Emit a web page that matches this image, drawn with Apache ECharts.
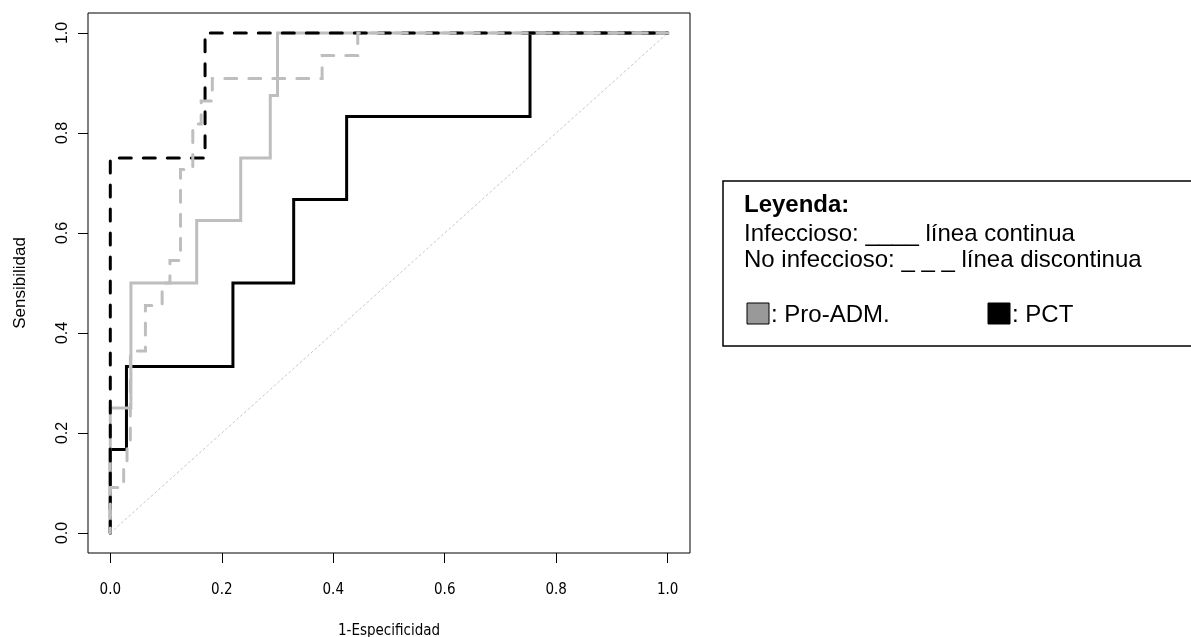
<!DOCTYPE html>
<html>
<head>
<meta charset="utf-8">
<script src="https://cdn.jsdelivr.net/npm/echarts@6/dist/echarts.min.js"></script>
<style>html,body{margin:0;padding:0;background:#fff;}#c{width:1191px;height:637px;}</style>
</head>
<body>
<div id="c"></div>
<script>
// ---- data ----
const xTicks = [0, 0.2, 0.4, 0.6, 0.8, 1.0];
const yTicks = [0, 0.2, 0.4, 0.6, 0.8, 1.0];

// Diagonal reference
const diagX = [0, 1];
const diagY = [0, 1];

// PCT, infeccioso (black solid)
const pctInfX = [0, 0, 0.029, 0.029, 0.22, 0.22, 0.329, 0.329, 0.424, 0.424, 0.753, 0.753, 1];
const pctInfY = [0, 0.167, 0.167, 0.333, 0.333, 0.5, 0.5, 0.667, 0.667, 0.833, 0.833, 1, 1];

// Pro-ADM, infeccioso (gray solid)
const admInfX = [0, 0, 0.037, 0.037, 0.155, 0.155, 0.234, 0.234, 0.287, 0.287, 0.300, 0.300, 1];
const admInfY = [0, 0.25, 0.25, 0.5, 0.5, 0.625, 0.625, 0.75, 0.75, 0.875, 0.875, 1, 1];

// PCT, no infeccioso (black dashed)
const pctNoX = [0, 0, 0.17, 0.17, 1];
const pctNoY = [0, 0.75, 0.75, 1, 1];

// Pro-ADM, no infeccioso (gray dashed)
const admNoX = [0, 0, 0.024, 0.024, 0.03, 0.03, 0.036, 0.036, 0.063, 0.063, 0.093, 0.093, 0.107, 0.107, 0.126, 0.126, 0.148, 0.148, 0.163, 0.163, 0.183, 0.183, 0.38, 0.38, 0.444, 0.444, 1];
const admNoY = [0, 0.091, 0.091, 0.136, 0.136, 0.182, 0.182, 0.364, 0.364, 0.455, 0.455, 0.5, 0.5, 0.545, 0.545, 0.727, 0.727, 0.818, 0.818, 0.864, 0.864, 0.909, 0.909, 0.955, 0.955, 1, 1];

const xName = '1-Especificidad';
const yName = 'Sensibilidad';
const legendTitle = 'Leyenda:';
const legendLine1 = 'Infeccioso: ____ línea continua';
const legendLine2 = 'No infeccioso: _ _ _ línea discontinua';
const legendAdm = ': Pro-ADM.';
const legendPct = ': PCT';

// ---- chart ----
const pairs = (xs, ys) => xs.map((x, i) => [x, ys[i]]);
const axisFont = "'DejaVu Sans Condensed','Liberation Sans',Arial,sans-serif";
const sansFont = "'Liberation Sans',Arial,Helvetica,sans-serif";

const chart = echarts.init(document.getElementById('c'), null, {renderer: 'canvas'});
const lineSeries = (xs, ys, color, width, type, z, offset) => ({
  type: 'line',
  data: pairs(xs, ys),
  showSymbol: false,
  symbol: 'none',
  silent: true,
  z: z,
  lineStyle: {color: color, width: width, type: type, dashOffset: offset || 0, cap: 'round', join: 'miter'}
});

chart.setOption({
  animation: false,
  backgroundColor: '#ffffff',
  grid: {left: 88, right: 501, top: 13, bottom: 84, containLabel: false, outerBoundsMode: 'none', show: true, borderColor: '#000', borderWidth: 1, backgroundColor: 'transparent'},
  xAxis: {
    type: 'value', min: -0.04, max: 1.04,
    axisLine: {show: false, onZero: false},
    splitLine: {show: false},
    axisTick: {show: true, inside: false, length: 10, customValues: xTicks, lineStyle: {color: '#000', width: 1}},
    axisLabel: {customValues: xTicks, formatter: v => v.toFixed(1), margin: 30, fontSize: 15, color: '#000', fontFamily: axisFont},
    name: xName, nameLocation: 'middle', nameGap: 71,
    nameTextStyle: {fontSize: 15, color: '#000', fontFamily: axisFont}
  },
  yAxis: {
    type: 'value', min: -0.04, max: 1.04,
    axisLine: {show: false, onZero: false},
    splitLine: {show: false},
    axisTick: {show: true, inside: false, length: 10, customValues: yTicks, lineStyle: {color: '#000', width: 1}},
    axisLabel: {customValues: yTicks, formatter: v => v.toFixed(1), rotate: 90, margin: 17, fontSize: 16, color: '#000', fontFamily: sansFont},
    name: yName, nameLocation: 'middle', nameGap: 59, nameRotate: 90,
    nameTextStyle: {fontSize: 17, color: '#000', fontFamily: sansFont}
  },
  series: [
    lineSeries(diagX, diagY, '#c8c8c8', 1, [2, 3], 1),
    lineSeries(pctInfX, pctInfY, '#000000', 3, 'solid', 2),
    lineSeries(admInfX, admInfY, '#bebebe', 3, 'solid', 3),
    lineSeries(pctNoX, pctNoY, '#000000', 3, [12, 12], 4),
    lineSeries(admNoX, admNoY, '#bebebe', 3, [12, 12], 5, 7)
  ],
  graphic: [
    {type: 'rect', shape: {x: 723, y: 181, width: 500, height: 165}, style: {fill: 'none', stroke: '#000', lineWidth: 1.5}, z: 10},
    {type: 'text', x: 744, y: 205, style: {text: legendTitle, fontSize: 24, fontWeight: 'bold', fontFamily: sansFont, fill: '#000', verticalAlign: 'middle'}, z: 10},
    {type: 'text', x: 744, y: 234, style: {text: legendLine1, fontSize: 24, fontFamily: sansFont, fill: '#000', verticalAlign: 'middle'}, z: 10},
    {type: 'text', x: 744, y: 260, style: {text: legendLine2, fontSize: 24, fontFamily: sansFont, fill: '#000', verticalAlign: 'middle'}, z: 10},
    {type: 'rect', shape: {x: 747, y: 303, width: 22, height: 21}, style: {fill: '#999999', stroke: '#000', lineWidth: 1}, z: 10},
    {type: 'text', x: 771, y: 315, style: {text: legendAdm, fontSize: 24, fontFamily: sansFont, fill: '#000', verticalAlign: 'middle'}, z: 10},
    {type: 'rect', shape: {x: 988, y: 303, width: 22, height: 21}, style: {fill: '#000000', stroke: '#000', lineWidth: 1}, z: 10},
    {type: 'text', x: 1012, y: 315, style: {text: legendPct, fontSize: 24, fontFamily: sansFont, fill: '#000', verticalAlign: 'middle'}, z: 10}
  ]
});
</script>
</body>
</html>
